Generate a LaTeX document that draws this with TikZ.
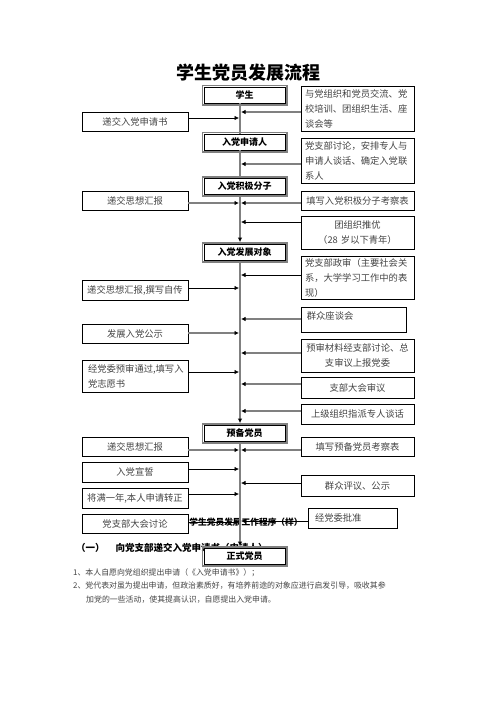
\documentclass[tikz,border=0pt]{standalone}
\usepackage{fontspec}
\setmainfont{Noto Sans CJK SC}
\usetikzlibrary{arrows.meta,calc}
\definecolor{lg}{HTML}{808080}
\definecolor{tx}{HTML}{444444}
\tikzset{
 box/.style={draw=black, line width=0.7pt, fill=white, inner sep=0pt, text=tx, font=\fontsize{9.3}{15}\selectfont},
 lbox/.style={box, minimum width=106, text width=100, align=center},
 rbox/.style={box, minimum width=113, text width=105, align=left},
 cbox/.style={box, minimum width=113, text width=105, align=center},
 mbox/.style={draw=black, line width=0.8pt, fill=white, minimum width=81, minimum height=16, inner sep=0pt, font=\bfseries\fontsize{9}{11}\selectfont},
 garr/.style={draw=lg, line width=2pt, -{Latex[length=4.5pt,width=4.5pt,black]}},
 barr/.style={draw=black, line width=0.7pt, -{Latex[length=4.5pt,width=4.5pt]}},
 gline/.style={draw=lg, line width=2pt},
 plain/.style={inner sep=0pt, text=tx, font=\fontsize{7.9}{11}\selectfont},
}
\newcommand\MBox[3]{%
 \node[mbox] (#1) at (#2) {#3};
 \draw[lg, line width=1.6pt] ($(#1.south west)+(-1.3,1.3)$) rectangle ($(#1.north east)+(1.3,-1.3)$);
}
\newcommand\LArr[3]{\draw[#1] ($(#2.east)+(0,#3)$) -- ($(#2.east -| spL)+(0,#3)$);}
\newcommand\RArr[3]{\draw[#1] ($(#2.west)+(0,#3)$) -- ($(#2.west -| spR)+(0,#3)$);}
\begin{document}
\begin{tikzpicture}[x=1pt,y=-1pt]
\useasboundingbox[fill=white] (0,0) rectangle (496,702);
\coordinate (sp) at (240,0);
\coordinate (spL) at (239,0);
\coordinate (spR) at (241,0);

\node[font=\bfseries\fontsize{18}{20}\selectfont] (title) at (248.5,73) {学生党员发展流程};

% left boxes
\node[lbox, minimum height=19] (l1) at (135,121.5) {递交入党申请书};
\node[lbox, minimum height=19] (l2) at (135,200.5) {递交思想汇报};
\node[lbox, minimum height=20] (l3) at (135,290) {递交思想汇报,撰写自传};
\node[lbox, minimum height=19] (l4) at (135,333.5) {发展入党公示};
\node[lbox, minimum height=32, text width=94, align=left] (l5) at (135,376) {经党委预审通过,填写入\\党志愿书};
\node[lbox, minimum height=19] (l6) at (135,446.5) {递交思想汇报};
\node[lbox, minimum height=20] (l7) at (135,472) {入党宣誓};
\node[lbox, minimum height=20] (l8) at (135,498) {将满一年,本人申请转正};
\node[lbox, minimum height=19] (l9) at (135,523.5) {党支部大会讨论};

% right boxes
\node[rbox, minimum height=45] (r1) at (357.5,108.5) {与党组织和党员交流、党\\校培训、团组织生活、座\\谈会等};
\node[rbox, minimum height=45] (r2) at (357.5,160.5) {党支部讨论，安排专人与\\申请人谈话、确定入党联\\系人};
\node[cbox, minimum height=19] (r3) at (357.5,200.5) {填写入党积极分子考察表};
\node[cbox, minimum height=33] (r4) at (357.5,232.5) {团组织推优\\（28 岁以下青年）};
\node[rbox, minimum height=43] (r5) at (357.5,277.5) {党支部政审（主要社会关\\系，大学学习工作中的表\\现）};
\node[box, minimum width=105, minimum height=25] (r6) at (353.5,319.5) {};
\node[plain, font=\fontsize{9.3}{15}\selectfont, anchor=north west] (r6t) at ($(r6.north west)+(6,5)$) {群众座谈会};
\node[cbox, minimum height=33] (r7) at (357.5,355.5) {预审材料经支部讨论、总\\支审议上报党委};
\node[cbox, minimum height=21] (r8) at (357.5,387.5) {支部大会审议};
\node[cbox, minimum height=20] (r9) at (357.5,414) {上级组织指派专人谈话};
\node[cbox, minimum height=19] (r10) at (357.5,446.5) {填写预备党员考察表};
\node[cbox, minimum height=21] (r11) at (357.5,485.5) {群众评议、公示};
\node[box, minimum width=89, text width=75, align=left, minimum height=20] (r12) at (352.5,518) {经党委批准};

% connectors
\LArr{barr}{l1}{-3.5}
\LArr{garr}{l2}{2.5}
\LArr{barr}{l3}{-2}
\LArr{garr}{l4}{-0.5}
\LArr{barr}{l5}{-4}
\LArr{garr}{l6}{3.5}
\LArr{barr}{l7}{-3}
\LArr{barr}{l8}{-4}
\LArr{barr}{l9}{-1.5}
\RArr{garr}{r1}{3.5}
\RArr{garr}{r2}{3.5}
\RArr{garr}{r3}{2.5}
\RArr{barr}{r4}{-10.5}
\RArr{barr}{r5}{-2.5}
\RArr{garr}{r6}{-0.5}
\RArr{garr}{r7}{-2.5}
\RArr{garr}{r8}{-3.5}
\RArr{garr}{r9}{-3}
\RArr{garr}{r10}{3.5}
\RArr{barr}{r11}{-2.5}
\RArr{barr}{r12}{3}

% overlapping texts
\node[inner sep=0pt, font=\bfseries\fontsize{8.7}{10}\selectfont] (prog) at (246,522) {学生党员发展工作程序（样）};
\node[inner sep=0pt, anchor=west, font=\bfseries\fontsize{9.5}{11}\selectfont] (sec) at (76,548) {（一）\hspace{11pt}向党支部递交入党申请书（申请人）};

% main boxes and spine
\MBox{m1}{244.5,95}{学生}
\MBox{m2}{244.5,142}{入党申请人}
\MBox{m3}{244.5,186.5}{入党积极分子}
\MBox{m4}{244.5,252.5}{入党发展对象}
\MBox{m5}{244.5,433.5}{预备党员}
\draw[gline] (m1.south -| sp) -- (m2.north -| sp);
\draw[gline] (m2.south -| sp) -- (m3.north -| sp);
\draw[garr] (m3.south -| sp) -- ($(m4.north -| sp)+(0,-2)$);
\draw[garr] (m4.south -| sp) -- ($(m5.north -| sp)+(0,-2)$);
\MBox{m6}{244.5,556.5}{正式党员}
\draw[garr] (m5.south -| sp) -- ($(m6.north -| sp)+(0,-2)$);

% notes
\node[plain, anchor=west] (n1) at (73,573) {1、本人自愿向党组织提出申请（《入党申请书》）；};
\node[plain, anchor=west] (n2) at (73,586) {2、党代表对虽为提出申请，但政治素质好，有培养前途的对象应进行启发引导，吸收其参};
\node[plain, anchor=west] (n3) at (86,600) {加党的一些活动，使其提高认识，自愿提出入党申请。};
\end{tikzpicture}
\end{document}
